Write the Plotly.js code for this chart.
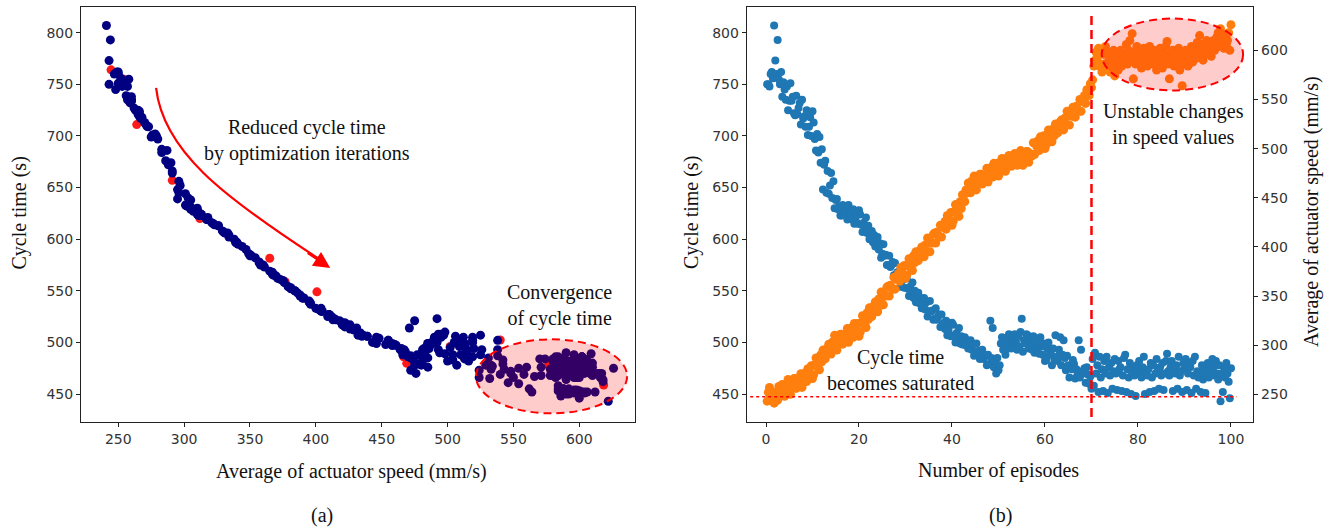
<!DOCTYPE html>
<html>
<head>
<meta charset="utf-8">
<script src="https://cdn.plot.ly/plotly-3.0.1.min.js"></script>
<style>html,body{margin:0;padding:0;background:#fff;}#chart{width:1336px;height:527px;}</style>
</head>
<body>
<div id="chart"></div>
<script>
// Cycle time (s) per quarter episode (episodes 0.25 .. 100)
const cycleTime = [
750,750,748,760, 762,756,807,773, 760,793,755,750, 762,738,752,745, 735,748,725,734,
751,734,738,722, 720,739,721,727, 732,711,735,717, 719,709,725,701, 709,718,700,724,
713,697,686,702, 684,699,674,687, 648,672,676,645, 666,644,652,664, 640,656,630,638,
639,629,632,623, 623,633,624,627, 631,619,633,623, 625,619,629,615, 619,624,615,628,
624,614,607,616, 613,621,606,613, 600,606,608,597, 604,593,597,602, 590,596,582,586,
595,584,585,575, 575,584,573,575, 578,565,577,566, 568,561,569,554, 560,564,553,565,
562,552,545,554, 550,558,543,550, 539,546,548,538, 543,533,537,543, 532,539,525,530,
540,530,531,522, 523,533,522,525, 527,515,527,517, 519,513,521,507, 512,517,506,519,
517,507,500,509, 506,514,499,506, 498,504,505,497, 502,494,497,502, 493,498,487,490,
499,491,492,484, 485,493,484,486, 488,478,488,479, 521,485,514,476, 482,470,485,473,
478,499,505,493, 499,488,504,494, 508,499,494,505, 497,508,501,493, 506,496,510,523,
491,502,499,508, 507,494,505,500, 493,506,490,500, 495,501,489,505, 496,488,499,482,
483,494,500,488, 489,478,494,484, 507,486,482,493, 505,478,488,502, 485,473,487,478,
466,477,474,483, 479,465,474,469, 502,466,493,472, 470,475,461,476, 469,460,467,455,
484,458,490,470, 478,452,486,466, 474,453,482,470, 486,451,476,468, 480,455,472,484,
470,454,482,474, 476,453,468,485, 488,452,474,466, 480,450,470,476, 468,448,478,472,
482,470,466,476, 486,450,472,468, 474,452,480,466, 478,453,470,484, 472,455,476,468,
480,454,470,482, 489,472,468,476, 482,453,474,470, 478,455,486,468, 472,452,480,476,
484,454,470,478, 476,451,482,468, 486,455,472,466, 470,452,478,464, 474,451,468,480,
466,478,472,484, 476,468,482,470, 464,478,443,470, 452,476,466,480, 470,462,446,475
];
// Average of actuator speed (mm/s) per quarter episode
const actuatorSpeed = [
243,252,257,247, 249,252,241,243, 250,244,258,255, 250,260,254,248, 260,253,265,260,
250,260,257,266, 266,256,265,262, 259,271,257,267, 266,272,263,276, 273,268,279,266,
270,280,287,278, 283,275,290,283, 295,288,286,296, 291,301,297,291, 303,296,310,305,
295,305,302,311, 311,301,310,307, 305,317,303,313, 312,318,308,322, 318,313,322,309,
313,323,330,321, 326,318,333,326, 338,331,329,339, 334,344,340,334, 347,340,354,349,
341,351,350,359, 360,350,361,358, 357,369,357,367, 367,373,365,379, 375,370,381,368,
371,381,388,379, 384,376,391,384, 395,388,386,396, 390,400,396,390, 402,395,409,404,
395,405,404,413, 414,404,415,412, 410,422,410,420, 420,426,418,432, 429,424,435,422,
426,436,443,434, 439,431,446,439, 453,448,446,458, 455,465,461,455, 467,460,472,467,
458,468,465,474, 474,464,473,470, 468,480,466,476, 475,481,471,485, 481,476,485,472,
475,485,490,481, 485,477,490,483, 493,486,482,492, 486,495,489,483, 494,486,498,492,
483,492,489,497, 497,486,495,492, 493,506,494,505, 502,508,498,512, 509,504,513,500,
504,514,519,510, 515,507,520,513, 525,519,516,526, 519,529,525,519, 531,524,538,533,
524,534,533,542, 542,532,543,540, 538,550,538,548, 548,554,546,560, 558,554,566,562,
570,584,590,598, 590,602,584,598, 578,596,586,604, 582,598,590,578, 594,584,600,574,
588,596,580,592, 600,584,594,588, 596,606,586,600, 610,592,617,571, 598,586,604,592,
588,600,582,596, 602,590,598,584, 594,604,588,598, 586,600,592,580, 596,588,602,590,
582,598,592,604, 609,586,571,596, 592,600,584,594, 598,588,602,580, 590,564,596,586,
600,592,584,598, 594,604,588,600, 602,592,608,596, 615,598,606,590, 604,596,610,600,
598,608,594,604, 610,600,606,614, 618,604,622,608, 612,602,616,606, 610,618,600,626
];
// Episode index of each sample (quarter-episode steps)
const episode = cycleTime.map((_, i) => (i + 1) / 4);

// Red points partly visible beneath the navy scatter in panel (a)
const redSpeed = [254, 244.5, 264, 291, 312, 365, 376.7, 400.8, 469, 540, 603, 618.5, 576.7, 466.6, 512, 502];
const redCycle = [755, 764, 711, 657, 620, 581.5, 558.8, 549, 479.7, 502.3, 473, 458.7, 478, 486, 486, 496];

const leftTicksX = [250, 300, 350, 400, 450, 500, 550, 600];
const cycleTicks = [450, 500, 550, 600, 650, 700, 750, 800];
const episodeTicks = [0, 20, 40, 60, 80, 100];
const speedTicks = [250, 300, 350, 400, 450, 500, 550, 600];

const W = 1336, H = 527;
const px = v => v / W, py = v => 1 - v / H;

const tickFont = {family: 'DejaVu Sans', size: 14, color: '#333'};
const serif = {family: 'Liberation Serif', size: 20, color: '#111'};
const axisBase = {showgrid: false, zeroline: false, showline: true, linecolor: '#222', linewidth: 1,
  ticks: 'outside', ticklen: 4, tickwidth: 1, tickcolor: '#222', tickfont: tickFont, tickmode: 'array'};

const traces = [
  {x: redSpeed, y: redCycle, xaxis: 'x', yaxis: 'y', type: 'scatter', mode: 'markers',
   marker: {color: '#ff1a1a', size: 9, line: {width: 0}}, hoverinfo: 'skip'},
  {x: actuatorSpeed, y: cycleTime, xaxis: 'x', yaxis: 'y', type: 'scatter', mode: 'markers',
   marker: {color: '#000080', size: 9, line: {width: 0}}},
  {x: episode, y: cycleTime, xaxis: 'x2', yaxis: 'y2', type: 'scatter', mode: 'markers',
   marker: {color: '#1f77b4', size: 8, line: {width: 0}}},
  {x: episode, y: actuatorSpeed, xaxis: 'x2', yaxis: 'y3', type: 'scatter', mode: 'markers',
   marker: {color: '#ff7f0e', size: 9, line: {width: 0}}}
];

const layout = {
  width: W, height: H, margin: {l: 0, r: 0, t: 0, b: 0},
  paper_bgcolor: '#fff', plot_bgcolor: '#fff', showlegend: false,
  xaxis: Object.assign({}, axisBase, {domain: [px(81), px(635)], range: [221.7, 642.3], anchor: 'y', mirror: true, tickvals: leftTicksX}),
  yaxis: Object.assign({}, axisBase, {domain: [py(421.7), py(7)], range: [423.2, 824.9], anchor: 'x', mirror: true, tickvals: cycleTicks}),
  xaxis2: Object.assign({}, axisBase, {domain: [px(746.7), px(1253.3)], range: [-4.15, 104.8], anchor: 'y2', mirror: true, tickvals: episodeTicks}),
  yaxis2: Object.assign({}, axisBase, {domain: [py(421.7), py(7)], range: [423.2, 824.9], anchor: 'x2', tickvals: cycleTicks}),
  yaxis3: Object.assign({}, axisBase, {overlaying: 'y2', side: 'right', anchor: 'x2', range: [222.1, 644.1], tickvals: speedTicks}),
  shapes: [
    {type: 'path', xref: 'x', yref: 'y', path: 'M278.7,746.5 C284.0,686.4 327.3,642.8 404.8,578.9',
     line: {color: '#ff0000', width: 2.2}},
    {type: 'circle', xref: 'x', yref: 'y', x0: 521.6, x1: 636.3, y0: 431.3, y1: 503, layer: 'above',
     fillcolor: 'rgba(255,0,0,0.2)', line: {color: '#ff0000', width: 2, dash: '8px,5px'}},
    {type: 'circle', xref: 'x2', yref: 'y3', x0: 72.2, x1: 102.6, y0: 559.2, y1: 632.3, layer: 'above',
     fillcolor: 'rgba(255,0,0,0.2)', line: {color: '#ff0000', width: 2, dash: '8px,5px'}},
    {type: 'line', xref: 'x2', yref: 'y2', x0: 70, x1: 70, y0: 427.7, y1: 817.2, layer: 'above',
     line: {color: '#ff0000', width: 2.5, dash: '9px,5px'}},
    {type: 'line', xref: 'x2', yref: 'y2', x0: -3.4, x1: 101.2, y0: 447.4, y1: 447.4, layer: 'above',
     line: {color: '#ff0000', width: 1.5, dash: 'dot'}}
  ],
  annotations: [
    {x: 410.9, y: 572.1, xref: 'x', yref: 'y', text: '', showarrow: true, ax: -24, ay: -16,
     arrowhead: 2, arrowsize: 1.5, arrowwidth: 2.2, arrowcolor: '#ff0000', standoff: 0},
    {x: px(307), y: py(140.5), xref: 'paper', yref: 'paper', text: 'Reduced cycle time<br>by optimization iterations',
     showarrow: false, font: serif, xanchor: 'center', yanchor: 'middle'},
    {x: px(559), y: py(305.8), xref: 'paper', yref: 'paper', text: 'Convergence<br>of cycle time',
     showarrow: false, font: serif, xanchor: 'center', yanchor: 'middle'},
    {x: px(900), y: py(369.8), xref: 'paper', yref: 'paper', text: 'Cycle time<br>becomes saturated',
     showarrow: false, font: serif, xanchor: 'center', yanchor: 'middle'},
    {x: px(1173.3), y: py(124.7), xref: 'paper', yref: 'paper', text: 'Unstable changes<br>in speed values',
     showarrow: false, font: serif, xanchor: 'center', yanchor: 'middle'},
    {x: px(351.7), y: py(471.7), xref: 'paper', yref: 'paper', text: 'Average of actuator speed (mm/s)',
     showarrow: false, font: serif, xanchor: 'center', yanchor: 'middle'},
    {x: px(998), y: py(470.7), xref: 'paper', yref: 'paper', text: 'Number of episodes',
     showarrow: false, font: serif, xanchor: 'center', yanchor: 'middle'},
    {x: px(322), y: py(515), xref: 'paper', yref: 'paper', text: '(a)',
     showarrow: false, font: serif, xanchor: 'center', yanchor: 'middle'},
    {x: px(1000), y: py(515), xref: 'paper', yref: 'paper', text: '(b)',
     showarrow: false, font: serif, xanchor: 'center', yanchor: 'middle'},
    {x: px(18.5), y: py(213), xref: 'paper', yref: 'paper', text: 'Cycle time (s)', textangle: -90,
     showarrow: false, font: serif, xanchor: 'center', yanchor: 'middle'},
    {x: px(691), y: py(213), xref: 'paper', yref: 'paper', text: 'Cycle time (s)', textangle: -90,
     showarrow: false, font: serif, xanchor: 'center', yanchor: 'middle'},
    {x: px(1311), y: py(212), xref: 'paper', yref: 'paper', text: 'Average of actuator speed (mm/s)', textangle: -90,
     showarrow: false, font: serif, xanchor: 'center', yanchor: 'middle'}
  ]
};

Plotly.newPlot('chart', traces, layout, {staticPlot: true, displayModeBar: false});
</script>
</body>
</html>
